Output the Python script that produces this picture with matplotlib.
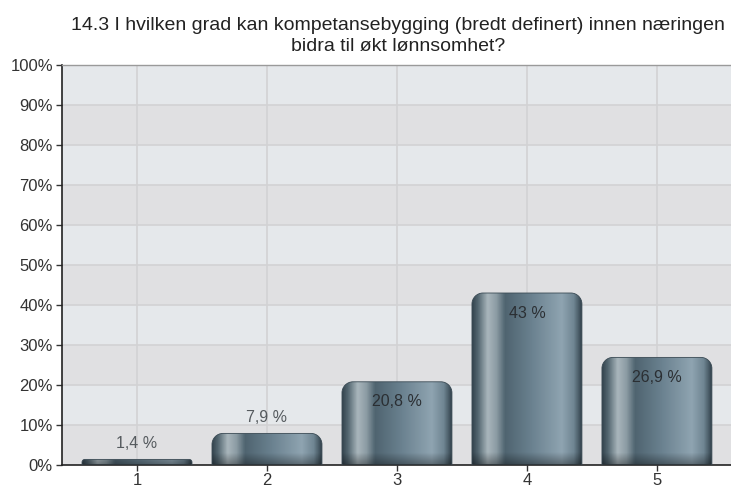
import numpy as np
import matplotlib
matplotlib.use('Agg')
import matplotlib.pyplot as plt
from matplotlib.path import Path
from matplotlib.patches import PathPatch
from matplotlib.colors import LinearSegmentedColormap

plt.rcParams['font.family'] = ['Liberation Sans', 'DejaVu Sans']

# data
categories = ['1', '2', '3', '4', '5']
values = [1.4, 7.9, 20.8, 43.0, 26.9]
labels = ['1,4 %', '7,9 %', '20,8 %', '43 %', '26,9 %']
yticks = [0, 10, 20, 30, 40, 50, 60, 70, 80, 90, 100]
title = '14.3 I hvilken grad kan kompetansebygging (bredt definert) innen næringen\nbidra til økt lønnsomhet?'

W, H = 731, 490
fig = plt.figure(figsize=(W / 100, H / 100), dpi=100)
ax = fig.add_axes([62 / W, 1 - 465 / H, (W - 62) / W, 400 / H])

xlo, xhi = 0.423, 5.57
ax.set_xlim(xlo, xhi)
ax.set_ylim(0, 100)

# background bands
for i in range(10):
    c = '#e0e0e2' if i % 2 == 0 else '#e5e8eb'
    ax.axhspan(i * 10, (i + 1) * 10, color=c, zorder=0, lw=0)
for t in yticks[1:]:
    ax.axhline(t, color='#d2d2d4', lw=1.2, zorder=1)
xs = np.arange(1, len(values) + 1)
for x in xs:
    ax.axvline(x, color='#d2d2d4', lw=1.2, zorder=1)

# cylinder-like gradient
cmap = LinearSegmentedColormap.from_list('cyl', [
    (0.00, '#35454f'), (0.05, '#52656f'), (0.14, '#a9b6bc'), (0.22, '#8c9ca4'),
    (0.30, '#4f6470'), (0.55, '#6b8290'), (0.82, '#8fa4b1'), (0.93, '#6f8592'),
    (1.00, '#34444e')])
grad_x = np.linspace(0, 1, 200)

px_x = (W - 62) / (xhi - xlo)
px_y = 400 / 100.0
bw = 0.846

for x, v, lab in zip(xs, values, labels):
    x0, x1 = x - bw / 2, x + bw / 2
    hpx = v * px_y
    r = min(11.0, hpx * 0.5)
    rx, ry = r / px_x, r / px_y
    k = 0.55
    verts = [(x0, 0), (x0, v - ry),
             (x0, v - ry + k * ry), (x0 + rx - k * rx, v), (x0 + rx, v),
             (x1 - rx, v),
             (x1 - rx + k * rx, v), (x1, v - ry + k * ry), (x1, v - ry),
             (x1, 0), (x0, 0)]
    codes = [Path.MOVETO, Path.LINETO,
             Path.CURVE4, Path.CURVE4, Path.CURVE4,
             Path.LINETO,
             Path.CURVE4, Path.CURVE4, Path.CURVE4,
             Path.LINETO, Path.CLOSEPOLY]
    patch = PathPatch(Path(verts, codes), facecolor='none', edgecolor='#3a4a54',
                      lw=0.6, zorder=3)
    ax.add_patch(patch)
    # vertical shading: darker rim near the top
    ny = 100
    yy = np.linspace(0, 1, ny)[:, None]
    top_px = (1 - yy) * hpx
    rim = np.clip(1 - top_px / 12.0, 0, 1) * 0.35
    img = cmap(np.repeat(grad_x[None, :], ny, axis=0))
    img[..., :3] = img[..., :3] * (1 - rim[..., None])
    im = ax.imshow(img, extent=[x0, x1, 0, v], origin='upper', aspect='auto',
                   zorder=2, interpolation='bilinear')
    im.set_clip_path(patch)
    if v > 15:
        ax.text(x, v - 20 / px_y, lab, ha='center', va='center', fontsize=11.5,
                color='#2b2f33', zorder=4)
    else:
        ax.text(x, v + 16 / px_y, lab, ha='center', va='center', fontsize=11.5,
                color='#555a5e', zorder=4)

ax.set_xticks(xs)
ax.set_xticklabels(categories)
ax.set_yticks(yticks)
ax.set_yticklabels(['%d%%' % t for t in yticks])
ax.tick_params(axis='both', labelsize=12, colors='#333333', direction='out',
               length=4, width=1.0, pad=2.5)
ax.tick_params(axis='x', pad=2)
for s in ['right']:
    ax.spines[s].set_visible(False)
ax.spines['top'].set_color('#9a9a9a')
ax.spines['top'].set_linewidth(1.0)
ax.spines['left'].set_color('#222222')
ax.spines['left'].set_linewidth(1.2)
ax.spines['bottom'].set_color('#222222')
ax.spines['bottom'].set_linewidth(1.2)

fig.text(398 / W, 1 - 36 / H, title, ha='center', va='center', fontsize=14,
         color='#222222', linespacing=1.25)

fig.savefig('out.png', dpi=100)
